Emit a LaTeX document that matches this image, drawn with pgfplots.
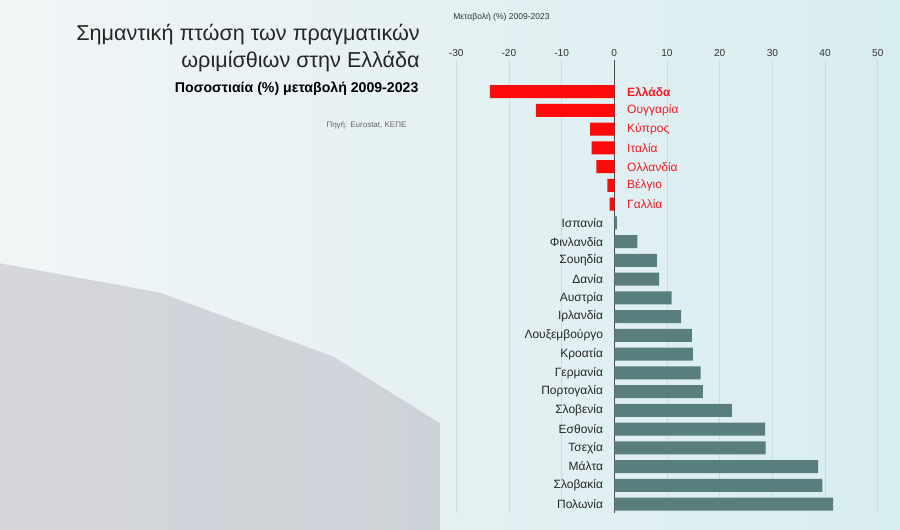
\documentclass[border=0pt]{standalone}
\usepackage{pgfplots}
\pgfplotsset{compat=1.18}
\usepackage{fontspec}
\setmainfont{Liberation Sans}
\definecolor{barred}{HTML}{FF0A0A}
\definecolor{labred}{HTML}{F01C24}
\definecolor{tealbar}{HTML}{5A7E7D}
\definecolor{bgL}{HTML}{F1F5F6}
\definecolor{bgR}{HTML}{D8EDF0}
\definecolor{gridc}{HTML}{C6DEE2}
\definecolor{photo}{HTML}{8E8795}
\begin{document}
\begin{tikzpicture}
% background (900x530 px, 1px = 0.75pt)
\shade[left color=bgL, right color=bgR] (0,0) rectangle (675pt,397.5pt);
% soft placeholder for the photograph area
\fill[photo, opacity=0.28] (0pt,200pt) -- (120pt,178pt) -- (250pt,130pt) -- (330pt,80pt) -- (330pt,0pt) -- (0pt,0pt) -- cycle;
% titles
\node[anchor=east, inner sep=0pt, font=\fontsize{16.2}{18}\selectfont, text=black!85] at (315pt,371.25pt) {Σημαντική πτώση των πραγματικών};
\node[anchor=east, inner sep=0pt, font=\fontsize{16.2}{18}\selectfont, text=black!85] at (315pt,351pt) {ωριμίσθιων στην Ελλάδα};
\node[anchor=east, inner sep=0pt, font=\fontsize{10.6}{12}\selectfont\bfseries] at (314pt,330.75pt) {Ποσοστιαία (\%) μεταβολή 2009-2023};
\node[anchor=east, inner sep=0pt, font=\fontsize{6}{7}\selectfont, text=black!60] at (305pt,303.75pt) {Πηγή: Eurostat, ΚΕΠΕ};
% axis caption
\node[anchor=west, inner sep=0pt, font=\fontsize{6.4}{7}\selectfont, text=black!80] at (339.75pt,384.75pt) {Μεταβολή (\%) 2009-2023};
\begin{axis}[
  at={(338.2pt,352.5pt)}, anchor=north west,
  scale only axis, width=324.1pt, height=339.75pt,
  xbar, bar width=9.75pt, bar shift=0pt,
  xmin=-31, xmax=51, ymin=-1.69, ymax=22.48, y dir=reverse,
  axis x line*=top, axis y line=none,
  axis line style={draw=none},
  xtick={-30,-20,-10,0,10,20,30,40,50},
  ytick=\empty,
  major tick length=0pt,
  xmajorgrids, grid style={color=gridc, line width=0.6pt},
  /pgf/number format/assume math mode=true,
  xticklabel style={font=\fontsize{7.6}{9}\selectfont, text=black!80, yshift=-1pt},
  extra x ticks={0}, extra x tick labels={},
  extra x tick style={grid style={color=black!70, line width=0.8pt}},
  clip=false,
]
\addplot[draw=none, fill=barred] coordinates {
  (-23.6,0) (-14.9,1) (-4.6,2) (-4.3,3) (-3.4,4) (-1.3,5) (-0.9,6)
};
\addplot[draw=none, fill=tealbar] coordinates {
  (0.5,7) (4.4,8) (8.1,9) (8.5,10) (10.9,11) (12.7,12) (14.7,13) (14.9,14)
  (16.4,15) (16.8,16) (22.3,17) (28.6,18) (28.7,19) (38.7,20) (39.5,21) (41.5,22)
};
\begin{scope}[every node/.style={font=\fontsize{9}{10}\selectfont, inner sep=0pt}]
\node[anchor=west, xshift=9.5pt, text=labred, font=\fontsize{9}{10}\selectfont\bfseries] at (axis cs:0,0) {Ελλάδα};
\node[anchor=west, xshift=9.5pt, text=labred] at (axis cs:0,1) {Ουγγαρία};
\node[anchor=west, xshift=9.5pt, text=labred] at (axis cs:0,2) {Κύπρος};
\node[anchor=west, xshift=9.5pt, text=labred] at (axis cs:0,3) {Ιταλία};
\node[anchor=west, xshift=9.5pt, text=labred] at (axis cs:0,4) {Ολλανδία};
\node[anchor=west, xshift=9.5pt, text=labred] at (axis cs:0,5) {Βέλγιο};
\node[anchor=west, xshift=9.5pt, text=labred] at (axis cs:0,6) {Γαλλία};
\node[anchor=east, xshift=-8.25pt, text=black!85] at (axis cs:0,7) {Ισπανία};
\node[anchor=east, xshift=-8.25pt, text=black!85] at (axis cs:0,8) {Φινλανδία};
\node[anchor=east, xshift=-8.25pt, text=black!85] at (axis cs:0,9) {Σουηδία};
\node[anchor=east, xshift=-8.25pt, text=black!85] at (axis cs:0,10) {Δανία};
\node[anchor=east, xshift=-8.25pt, text=black!85] at (axis cs:0,11) {Αυστρία};
\node[anchor=east, xshift=-8.25pt, text=black!85] at (axis cs:0,12) {Ιρλανδία};
\node[anchor=east, xshift=-8.25pt, text=black!85] at (axis cs:0,13) {Λουξεμβούργο};
\node[anchor=east, xshift=-8.25pt, text=black!85] at (axis cs:0,14) {Κροατία};
\node[anchor=east, xshift=-8.25pt, text=black!85] at (axis cs:0,15) {Γερμανία};
\node[anchor=east, xshift=-8.25pt, text=black!85] at (axis cs:0,16) {Πορτογαλία};
\node[anchor=east, xshift=-8.25pt, text=black!85] at (axis cs:0,17) {Σλοβενία};
\node[anchor=east, xshift=-8.25pt, text=black!85] at (axis cs:0,18) {Εσθονία};
\node[anchor=east, xshift=-8.25pt, text=black!85] at (axis cs:0,19) {Τσεχία};
\node[anchor=east, xshift=-8.25pt, text=black!85] at (axis cs:0,20) {Μάλτα};
\node[anchor=east, xshift=-8.25pt, text=black!85] at (axis cs:0,21) {Σλοβακία};
\node[anchor=east, xshift=-8.25pt, text=black!85] at (axis cs:0,22) {Πολωνία};
\end{scope}
\end{axis}
\end{tikzpicture}
\end{document}
